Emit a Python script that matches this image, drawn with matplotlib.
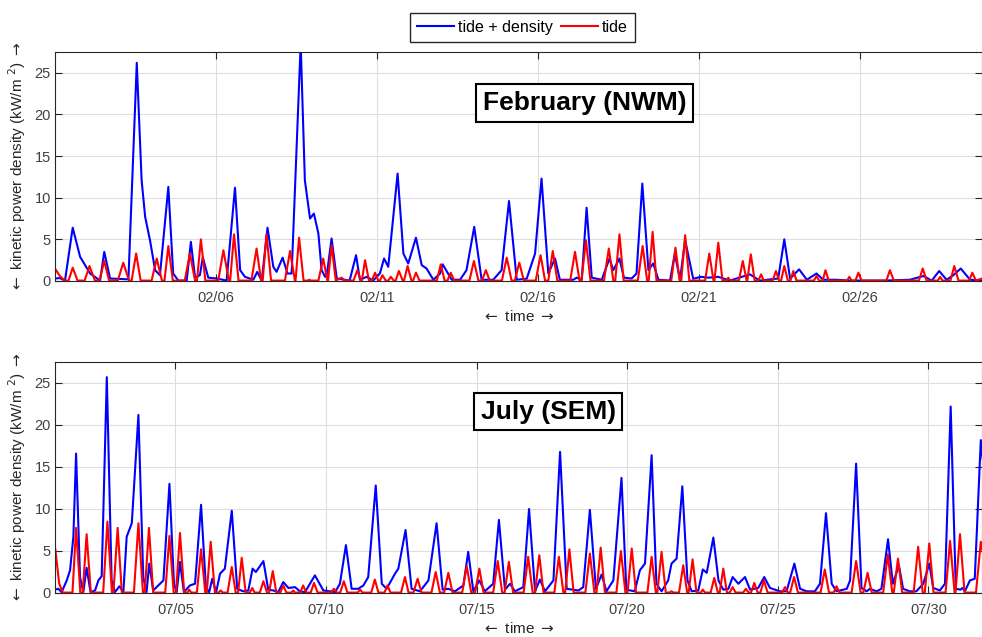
import numpy as np
import pandas as pd
import matplotlib
matplotlib.use("Agg")
import matplotlib.pyplot as plt

plt.rcParams["font.family"] = ["Liberation Sans", "DejaVu Sans"]

# ---- February (NWM): days since 02/01 00:00, kinetic power density (kW/m2)
feb_blue_day = [0.00, 0.15, 0.31, 0.55, 0.78, 1.09, 1.40, 1.53, 1.71, 2.28, 2.54, 2.69, 2.80, 2.95,
                3.11, 3.26, 3.52, 3.67, 3.83, 4.09, 4.22, 4.35, 4.50, 4.59, 4.76, 5.02, 5.33, 5.59,
                5.75, 5.90, 6.16, 6.28, 6.42, 6.60, 6.78, 6.88, 7.07, 7.22, 7.35, 7.63, 7.76, 7.92,
                8.04, 8.18, 8.28, 8.39, 8.44, 8.59, 8.75, 9.15, 9.35, 9.47, 9.68, 9.88, 10.09, 10.22,
                10.35, 10.64, 10.82, 10.97, 11.21, 11.39, 11.54, 11.75, 11.96, 12.04, 12.32, 12.58,
                12.78, 13.02, 13.25, 13.61, 13.87, 14.10, 14.34, 14.65, 14.91, 15.11, 15.32, 15.53,
                15.68, 16.10, 16.20, 16.36, 16.51, 16.67, 16.98, 17.22, 17.34, 17.53, 17.67, 17.91,
                18.06, 18.24, 18.43, 18.58, 18.74, 19.10, 19.25, 19.41, 19.57, 19.82, 20.08, 20.29,
                20.60, 20.96, 21.58, 21.89, 22.46, 22.65, 22.83, 23.11, 23.35, 23.65, 23.86, 24.27,
                24.69, 25.73, 26.55, 26.97, 27.23, 27.46, 27.69, 27.90, 28.13, 28.42, 28.78]
feb_blue_val = [0.3, 0.35, 0.05, 6.4, 2.9, 0.9, 0.05, 3.5, 0.3, 0.2, 26.2, 12.1, 7.7, 4.9,
                1.3, 0.7, 11.3, 0.9, 0.05, 0.05, 4.7, 0.4, 0.7, 2.85, 0.4, 0.3, 0.05, 11.2,
                1.3, 0.5, 0.15, 1.1, 0.05, 6.4, 1.7, 1.1, 2.8, 0.9, 0.9, 28.5, 12.1, 7.5,
                8.1, 5.7, 1.3, 0.5, 0.7, 5.1, 0.3, 0.05, 3.1, 0.15, 0.5, 0.05, 0.9, 2.7,
                1.7, 12.9, 3.3, 2.1, 5.2, 1.9, 1.5, 0.15, 0.9, 2.0, 0.15, 0.15,
                1.3, 6.5, 0.15, 0.15, 1.3, 9.6, 0.15, 0.28, 3.3, 12.3, 0.9, 2.7,
                0.15, 0.15, 0.4, 0.15, 8.8, 0.4, 0.15, 2.7, 1.3, 2.7, 0.4, 0.3,
                0.9, 11.7, 1.3, 2.1, 0.15, 0.05, 3.3, 0.15, 4.9, 0.28, 0.5, 0.4,
                0.5, 0.05, 0.8, 0.05, 0.3, 5.0, 0.28, 1.4, 0.15, 0.9, 0.15, 0.15,
                0.05, 0.05, 0.15, 0.6, 0.05, 1.2, 0.15, 0.7, 1.5, 0.15, 0.05]

feb_red_day = [0.00, 0.15, 0.30, 0.42, 0.55, 0.70, 0.92, 1.07, 1.24, 1.38, 1.53, 1.68, 1.95, 2.12,
               2.30, 2.38, 2.52, 2.66, 3.00, 3.16, 3.32, 3.40, 3.52, 3.66, 4.03, 4.19, 4.35, 4.41,
               4.53, 4.67, 5.07, 5.23, 5.40, 5.44, 5.56, 5.70, 6.10, 6.26, 6.40, 6.45, 6.57, 6.71,
               7.14, 7.30, 7.45, 7.47, 7.58, 7.72, 7.85, 7.90, 7.95, 8.18, 8.33, 8.46, 8.48, 8.59,
               8.72, 8.90, 9.00, 9.27, 9.39, 9.50, 9.53, 9.63, 9.75, 9.84, 9.94, 10.04, 10.09, 10.17,
               10.27, 10.35, 10.43, 10.52, 10.58, 10.68, 10.80, 10.84, 10.95, 11.07, 11.12, 11.21,
               11.32, 11.86, 11.98, 12.10, 12.19, 12.29, 12.40, 12.87, 13.01, 13.15, 13.26, 13.38,
               13.50, 13.88, 14.03, 14.18, 14.28, 14.42, 14.56, 14.93, 15.08, 15.22, 15.32, 15.46,
               15.60, 16.00, 16.15, 16.29, 16.35, 16.49, 16.63, 17.05, 17.20, 17.34, 17.40, 17.53,
               17.66, 18.10, 18.25, 18.39, 18.44, 18.56, 18.68, 19.14, 19.27, 19.40, 19.45, 19.57,
               19.70, 20.19, 20.32, 20.45, 20.48, 20.60, 20.73, 20.86, 20.91, 20.97, 21.24, 21.36,
               21.48, 21.50, 21.61, 21.73, 21.85, 21.93, 22.01, 22.29, 22.39, 22.49, 22.55, 22.65,
               22.76, 22.84, 22.93, 23.03, 23.57, 23.65, 23.73, 23.84, 23.93, 24.03, 24.60, 24.67,
               24.74, 24.86, 24.95, 25.05, 25.82, 25.93, 26.05, 26.83, 26.95, 27.07, 27.42, 27.49,
               27.56, 27.81, 27.93, 28.06, 28.39, 28.49, 28.60, 28.79]
feb_red_val = [1.5, 0.6, 0.05, 0.05, 1.6, 0.05, 0.05, 1.8, 0.05, 0.05, 2.4, 0.05, 0.05, 2.2,
               0.05, 0.05, 3.3, 0.05, 0.05, 2.7, 0.05, 0.05, 4.2, 0.05, 0.05, 3.3, 0.05, 0.05,
               5.0, 0.05, 0.05, 3.7, 0.05, 0.05, 5.6, 0.05, 0.05, 3.9, 0.05, 0.05, 5.6, 0.05,
               0.05, 3.6, 0.05, 0.05, 5.2, 0.05, 0.05, 0.15, 0.05, 0.05, 2.7, 0.05, 0.05, 4.3,
               0.05, 0.4, 0.05, 0.05, 1.3, 0.05, 0.05, 2.5, 0.05, 0.05, 1.0, 0.05, 0.05, 0.7,
               0.05, 0.05, 0.5, 0.05, 0.05, 1.2, 0.05, 0.05, 1.8, 0.05, 0.05, 1.0,
               0.05, 0.05, 2.0, 0.05, 0.05, 1.0, 0.05, 0.05, 2.4, 0.05, 0.05, 1.3,
               0.05, 0.05, 2.8, 0.05, 0.05, 2.2, 0.05, 0.05, 3.1, 0.05, 0.05, 3.6,
               0.05, 0.05, 3.5, 0.05, 0.05, 4.9, 0.05, 0.05, 3.9, 0.05, 0.05, 5.6,
               0.05, 0.05, 4.2, 0.05, 0.05, 5.9, 0.05, 0.05, 4.0, 0.05, 0.05, 5.5,
               0.05, 0.05, 3.3, 0.05, 0.05, 4.6, 0.05, 0.05, 0.4, 0.05, 0.05, 2.4,
               0.05, 0.05, 3.2, 0.05, 0.05, 0.8, 0.05, 0.05, 1.2, 0.05, 0.05, 1.8,
               0.05, 0.05, 1.2, 0.05, 0.05, 0.6, 0.05, 0.05, 1.3, 0.05, 0.05, 0.5,
               0.05, 0.05, 1.0, 0.05, 0.05, 1.3, 0.05, 0.05, 1.5, 0.05, 0.05, 0.5,
               0.05, 0.05, 1.8, 0.05, 0.05, 1.0, 0.05, 0.3]

# ---- July (SEM): days since 07/01 00:00
jul_blue_day = [0.00, 0.11, 0.22, 0.39, 0.50, 0.61, 0.70, 0.83, 0.94, 1.05, 1.18, 1.33, 1.44, 1.55,
                1.72, 1.88, 1.99, 2.14, 2.27, 2.38, 2.55, 2.77, 2.93, 3.04, 3.13, 3.26, 3.43, 3.60,
                3.80, 3.95, 4.04, 4.15, 4.28, 4.48, 4.65, 4.85, 5.01, 5.12, 5.22, 5.35, 5.48, 5.64,
                5.87, 6.05, 6.25, 6.42, 6.56, 6.67, 6.92, 7.08, 7.25, 7.41, 7.58, 7.75, 7.97, 8.13,
                8.30, 8.63, 8.91, 9.13, 9.30, 9.46, 9.66, 9.85, 10.07, 10.24, 10.40, 10.65, 10.85,
                11.01, 11.29, 11.40, 11.64, 11.84, 12.12, 12.40, 12.67, 12.87, 13.06, 13.28, 13.56,
                13.72, 13.89, 14.09, 14.27, 14.55, 14.74, 14.94, 15.11, 15.27, 15.55, 15.74, 15.94,
                16.10, 16.27, 16.55, 16.77, 16.99, 17.19, 17.38, 17.54, 17.76, 17.96, 18.15, 18.31,
                18.54, 18.81, 18.97, 19.25, 19.42, 19.59, 19.81, 19.97, 20.14, 20.36, 20.47, 20.64,
                20.83, 21.00, 21.14, 21.36, 21.51, 21.64, 21.86, 22.03, 22.19, 22.36, 22.50, 22.69,
                22.91, 23.08, 23.35, 23.55, 23.74, 23.91, 24.07, 24.29, 24.55, 24.74, 24.96, 25.23,
                25.40, 25.60, 25.79, 25.95, 26.29, 26.40, 26.60, 26.78, 26.95, 27.06, 27.28, 27.44,
                27.66, 27.82, 28.02, 28.16, 28.38, 28.60, 28.83, 29.03, 29.16, 29.38, 29.55, 29.74,
                29.91, 30.07, 30.13, 30.21, 30.38, 30.54, 30.74, 30.80]
jul_blue_val = [0.4, 0.5, 0.1, 1.5, 2.7, 6.7, 16.6, 1.9, 0.1, 3.0, 0.1, 0.3, 1.5, 2.0,
                25.7, 1.5, 0.1, 0.8, 0.1, 6.7, 8.3, 21.2, 1.9, 0.1, 3.5, 0.3, 0.9, 1.5,
                13.0, 1.1, 0.1, 3.7, 0.1, 0.9, 1.1, 10.5, 0.7, 0.1, 1.7, 0.1, 2.3, 2.9,
                9.8, 0.5, 0.2, 0.3, 2.9, 2.5, 3.8, 0.4, 0.3, 0.1, 1.3, 0.6, 0.7, 0.2,
                0.1, 2.1, 0.3, 0.2, 0.1, 1.1, 5.7, 0.5, 0.5, 0.9, 1.9, 12.8, 1.1,
                0.5, 2.3, 2.9, 7.5, 0.5, 0.2, 1.5, 8.3, 0.4, 0.5, 0.2, 0.9,
                4.9, 0.2, 1.5, 0.2, 1.1, 8.7, 0.4, 1.1, 0.2, 0.7, 10.0, 0.2,
                1.6, 0.2, 1.5, 16.8, 0.5, 0.4, 0.3, 0.7, 9.9, 0.5, 2.2, 0.2,
                1.5, 13.7, 0.4, 0.2, 2.7, 3.5, 16.4, 1.1, 0.2, 1.5, 3.5, 4.1,
                12.7, 1.5, 0.2, 0.3, 2.8, 2.4, 6.6, 1.5, 0.4, 0.5, 1.9, 1.1,
                1.9, 0.4, 0.6, 1.9, 0.6, 0.4, 0.2, 0.2, 3.5, 0.5, 0.2, 0.2,
                1.1, 9.5, 1.1, 0.2, 0.5, 1.5, 15.4, 0.6, 0.2, 0.5, 0.2, 0.5,
                6.4, 1.1, 3.3, 0.5, 0.2, 0.2, 1.1, 3.5, 0.6, 0.3, 1.1, 22.2,
                0.5, 0.4, 0.6, 0.2, 1.5, 1.7, 18.2, 16.0]

jul_red_day = [0.00, 0.14, 0.26, 0.58, 0.70, 0.84, 0.92, 1.05, 1.19, 1.60, 1.74, 1.89, 1.94, 2.08,
               2.22, 2.62, 2.77, 2.92, 2.98, 3.12, 3.26, 3.66, 3.80, 3.94, 4.02, 4.15, 4.29, 4.40,
               4.46, 4.52, 4.71, 4.85, 4.99, 5.04, 5.17, 5.31, 5.43, 5.50, 5.57, 5.73, 5.87, 6.00,
               6.08, 6.20, 6.33, 6.47, 6.55, 6.63, 6.80, 6.92, 7.04, 7.11, 7.23, 7.35, 7.48, 7.58,
               7.68, 7.85, 7.91, 7.97, 8.14, 8.24, 8.34, 8.49, 8.60, 8.72, 9.16, 9.26, 9.36, 9.47,
               9.59, 9.71, 10.05, 10.13, 10.21, 10.50, 10.62, 10.74, 10.94, 11.04, 11.14, 11.49,
               11.62, 11.74, 11.90, 12.04, 12.17, 12.50, 12.64, 12.78, 12.92, 13.06, 13.20, 13.52,
               13.67, 13.82, 13.95, 14.09, 14.23, 14.55, 14.70, 14.85, 14.93, 15.07, 15.21, 15.56,
               15.71, 15.86, 15.94, 16.08, 16.22, 16.58, 16.73, 16.88, 16.94, 17.08, 17.22, 17.61,
               17.76, 17.91, 17.98, 18.12, 18.26, 18.64, 18.79, 18.94, 19.01, 19.15, 19.29, 19.67,
               19.81, 19.95, 20.00, 20.14, 20.28, 20.40, 20.47, 20.54, 20.72, 20.86, 20.99, 21.04,
               21.17, 21.30, 21.44, 21.51, 21.58, 21.77, 21.89, 22.01, 22.07, 22.19, 22.31, 22.40,
               22.50, 22.60, 22.85, 22.94, 23.03, 23.11, 23.22, 23.33, 23.42, 23.54, 23.66, 24.14,
               24.24, 24.34, 24.41, 24.54, 24.67, 25.42, 25.56, 25.70, 25.85, 25.95, 26.05, 26.45,
               26.60, 26.75, 26.84, 26.98, 27.12, 27.50, 27.65, 27.80, 27.85, 27.99, 28.13, 28.51,
               28.66, 28.81, 28.88, 29.03, 29.17, 29.57, 29.72, 29.87, 29.90, 30.05, 30.20, 30.58,
               30.74, 30.80]
jul_red_val = [5.5, 1.1, 0.05, 0.05, 7.75, 0.05, 0.05, 7.0, 0.05, 0.05, 8.5, 0.05, 0.05, 7.75,
               0.05, 0.05, 8.3, 0.05, 0.05, 7.75, 0.05, 0.05, 6.8, 0.05, 0.05, 7.15, 0.05, 0.05,
               0.4, 0.05, 0.05, 5.2, 0.05, 0.05, 6.1, 0.05, 0.05, 0.3, 0.05, 0.05, 3.1, 0.05,
               0.05, 4.2, 0.05, 0.05, 0.6, 0.05, 0.05, 1.4, 0.05, 0.05, 2.6, 0.05, 0.05, 0.9,
               0.05, 0.05, 0.3, 0.05, 0.05, 0.9, 0.05, 0.05, 1.2, 0.05, 0.05, 0.5, 0.05, 0.05,
               1.4, 0.05, 0.05, 0.4, 0.05, 0.05, 1.6, 0.05, 0.05, 0.9, 0.05, 0.05,
               1.9, 0.05, 0.05, 1.7, 0.05, 0.05, 2.5, 0.05, 0.05, 2.4, 0.05, 0.05,
               3.2, 0.05, 0.05, 2.9, 0.05, 0.05, 3.8, 0.05, 0.05, 3.7, 0.05, 0.05,
               4.3, 0.05, 0.05, 4.5, 0.05, 0.05, 4.3, 0.05, 0.05, 5.2, 0.05, 0.05,
               4.7, 0.05, 0.05, 5.4, 0.05, 0.05, 5.0, 0.05, 0.05, 5.3, 0.05, 0.05,
               4.3, 0.05, 0.05, 4.9, 0.05, 0.05, 0.2, 0.05, 0.05, 3.3, 0.05, 0.05,
               4.0, 0.05, 0.05, 0.4, 0.05, 0.05, 1.8, 0.05, 0.05, 2.9, 0.05, 0.05,
               0.7, 0.05, 0.05, 0.5, 0.05, 0.05, 1.2, 0.05, 0.05, 1.5, 0.05, 0.05,
               0.7, 0.05, 0.05, 1.9, 0.05, 0.05, 2.8, 0.05, 0.05, 0.8, 0.05, 0.05,
               3.8, 0.05, 0.05, 2.4, 0.05, 0.05, 4.6, 0.05, 0.05, 4.1, 0.05, 0.05,
               5.5, 0.05, 0.05, 5.9, 0.05, 0.05, 6.2, 0.05, 0.05, 7.0, 0.05, 0.05,
               6.1, 5.0]

feb_start = "2019-02-01"
jul_start = "2019-07-01"
feb_ticks = ["02/06", "02/11", "02/16", "02/21", "02/26"]
jul_ticks = ["07/05", "07/10", "07/15", "07/20", "07/25", "07/30"]
feb_span = 28.79   # days shown on x axis
jul_span = 30.78

series_labels = ["tide + density", "tide"]
panel_titles = ["February (NWM)", "July (SEM)"]


def to_time(start, days):
    return pd.Timestamp(start) + pd.to_timedelta(np.asarray(days), unit="D")


def draw_panel(ax, start, span, bday, bval, rday, rval, ticks, title, title_xy):
    lb, = ax.plot(to_time(start, bday), bval, color="#0000FF", lw=1.5, label=series_labels[0])
    lr, = ax.plot(to_time(start, rday), rval, color="#FF0000", lw=1.5, label=series_labels[1])
    ax.set_xlim(pd.Timestamp(start), pd.Timestamp(start) + pd.Timedelta(days=span))
    ax.set_ylim(0, 27.5)
    ax.set_yticks([0, 5, 10, 15, 20, 25])
    year = pd.Timestamp(start).year
    ax.set_xticks([pd.Timestamp(f"{year}/{t}") for t in ticks])
    ax.set_xticklabels(ticks)
    ax.grid(True, color="#dedede", lw=0.8)
    ax.set_axisbelow(True)
    ax.tick_params(direction="in", length=5, top=True, right=True, color="#262626",
                   labelcolor="#404040", labelsize=10.5)
    ax.tick_params(axis="x", pad=7)
    ax.tick_params(axis="y", pad=3)
    for s in ax.spines.values():
        s.set_color("#262626")
        s.set_linewidth(0.8)
    ax.set_xlabel(r"$\leftarrow$ time $\rightarrow$", fontsize=11, color="#262626",
                  labelpad=3, math_fontfamily="dejavusans")
    ax.set_ylabel(r"$\leftarrow$ kinetic power density (kW/m $^{2}$) $\rightarrow$", fontsize=11,
                  color="#262626", labelpad=5, math_fontfamily="dejavusans")
    ax.text(title_xy[0], title_xy[1], title, transform=ax.transAxes, ha="center", va="center",
            fontsize=19, fontweight="bold",
            bbox=dict(boxstyle="square,pad=0.25", fc="white", ec="black", lw=1.5))
    return lb, lr


fig = plt.figure(figsize=(9.82, 6.37), dpi=100)
ax1 = fig.add_axes([55 / 982, 1 - 281 / 637, 927 / 982, 229 / 637])
ax2 = fig.add_axes([55 / 982, 1 - 593 / 637, 927 / 982, 231 / 637])

lb, lr = draw_panel(ax1, feb_start, feb_span, feb_blue_day, feb_blue_val, feb_red_day, feb_red_val,
                    feb_ticks, panel_titles[0], (0.571, 0.777))
draw_panel(ax2, jul_start, jul_span, jul_blue_day, jul_blue_val, jul_red_day, jul_red_val,
           jul_ticks, panel_titles[1], (0.532, 0.784))

fig.legend([lb, lr], series_labels, loc="center", bbox_to_anchor=(0.532, 0.957), ncol=2,
           fontsize=11.5, frameon=True, fancybox=False, edgecolor="#262626", framealpha=1,
           handlelength=2.3, handletextpad=0.25, columnspacing=0.5, borderpad=0.45)

fig.savefig("out.png", dpi=100)
